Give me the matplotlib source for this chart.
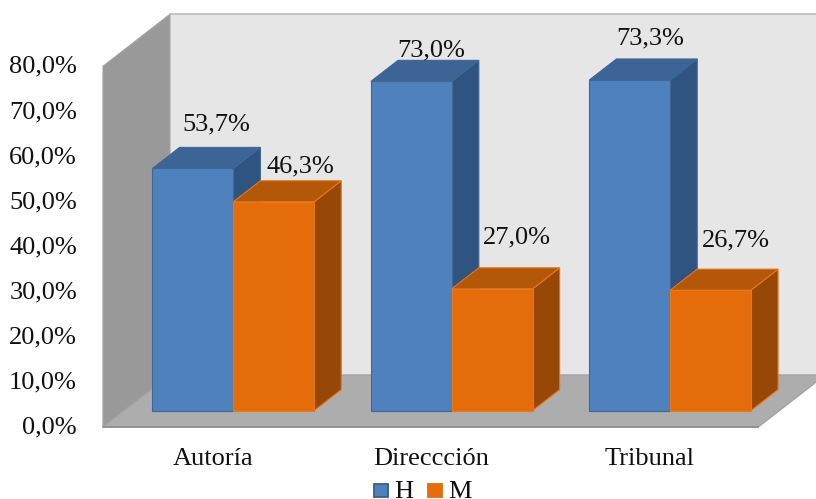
import matplotlib
matplotlib.use("Agg")
import matplotlib.pyplot as plt
from matplotlib.patches import Polygon, Rectangle

categories = ["Autoría", "Direccción", "Tribunal"]
series_names = ["H", "M"]
h_values = [53.7, 73.0, 73.3]
m_values = [46.3, 27.0, 26.7]
h_labels = ["53,7%", "73,0%", "73,3%"]
m_labels = ["46,3%", "27,0%", "26,7%"]
y_ticks = [0, 10, 20, 30, 40, 50, 60, 70, 80]
y_tick_labels = ["0,0%", "10,0%", "20,0%", "30,0%", "40,0%", "50,0%", "60,0%", "70,0%", "80,0%"]

W, H = 816, 499
PX_X = 218.4      # pixels per category
PX_Y = 4.51       # pixels per percent
X0, Y0 = 103, 427 # pixel of front-left floor corner
DX = 67 / PX_X    # full depth, x data units
DY = 52 / PX_Y    # full depth, y data units
BW = 0.37         # bar width in category units
D0, D1 = 0.315, 0.72  # depth range of the bars

plt.rcParams["font.family"] = ["Liberation Serif", "DejaVu Serif"]
fig = plt.figure(figsize=(W / 100, H / 100), dpi=100)
ax = fig.add_axes([0, 0, 1, 1])
ax.set_xlim(-0.5 - X0 / PX_X, -0.5 + (W - X0) / PX_X)
ax.set_ylim((Y0 - H) / PX_Y, Y0 / PX_Y)
ax.axis("off")


def P(x, v, d):
    return (x + d * DX, v + d * DY)


def poly(points, fc, ec=None, lw=0.8, z=1):
    ax.add_patch(Polygon(points, closed=True, facecolor=fc,
                         edgecolor=ec if ec else fc, linewidth=lw, zorder=z,
                         joinstyle="miter"))


xl, xr = -0.5, 2.5
vmax = y_ticks[-1]
# back wall (runs out at the right edge)
poly([P(xl, 0, 1), P(xl, vmax, 1), P(xr + 0.02, vmax, 1), P(xr + 0.02, 0, 1)],
     "#e6e6e6", "#e6e6e6", z=1)
ax.plot([P(xl, vmax, 1)[0], P(xr + 0.02, vmax, 1)[0]],
        [P(xl, vmax, 1)[1]] * 2, color="#bdbdbd", lw=1.2, zorder=2)
# side wall
poly([P(xl, 0, 0), P(xl, vmax, 0), P(xl, vmax, 1), P(xl, 0, 1)],
     "#999999", "#a6a6a6", z=2)
# floor
poly([P(xl, 0, 0), P(xr, 0, 0), P(xr, 0, 1), P(xl, 0, 1)],
     "#adadad", "#a3a3a3", lw=1.0, z=2)
ax.plot([P(xl, 0, 0)[0], P(xr, 0, 0)[0]], [P(xl, 0, 0)[1]] * 2,
        color="#8f8f8f", lw=1.2, zorder=3)


def bar(xa, xb, v, front, top, side, edge, z):
    poly([P(xb, 0, D0), P(xb, v, D0), P(xb, v, D1), P(xb, 0, D1)], side, edge, z=z)
    poly([P(xa, v, D0), P(xb, v, D0), P(xb, v, D1), P(xa, v, D1)], top, edge, z=z)
    poly([P(xa, 0, D0), P(xb, 0, D0), P(xb, v, D0), P(xa, v, D0)], front, edge, z=z)


for i in range(len(categories)):
    bar(i - BW, i, h_values[i], "#4f81bd", "#3c6595", "#305480", "#3f6797", 4 + i)
    bar(i, i + BW, m_values[i], "#e46c0a", "#b35708", "#974706", "#e8761a", 4 + i)

fs = 19
label_offset_px = [(23, 33), (20, 20), (20, 31)]
m_offset_px = [(27, 24), (25, 40), (25, 39)]
for i in range(len(categories)):
    x, y = P(i - BW / 2, h_values[i], D0)
    ax.annotate(h_labels[i], (x, y), xytext=label_offset_px[i], textcoords="offset pixels",
                ha="center", va="bottom", fontsize=fs, color="#111111", zorder=20)
    x, y = P(i + BW / 2, m_values[i], D0)
    ax.annotate(m_labels[i], (x, y), xytext=m_offset_px[i],
                textcoords="offset pixels", ha="center", va="bottom", fontsize=fs,
                color="#111111", zorder=20)

for v, s in zip(y_ticks, y_tick_labels):
    ax.text(xl - 26 / PX_X, v - 0.15, s, ha="right", va="center", fontsize=fs, color="#111111")
for i, c in enumerate(categories):
    ax.text(i + 1 / PX_X, -32 / PX_Y, c, ha="center", va="center", fontsize=fs, color="#111111")

# legend
lx = [374.5, 428.5]
for name, px, fc, ec in zip(series_names, lx, ["#4f81bd", "#e46c0a"], ["#35608f", "#e46c0a"]):
    x = ax.get_xlim()[0] + px / PX_X
    yb = (Y0 - 497) / PX_Y
    ax.add_patch(Rectangle((x, yb), 13.5 / PX_X, 13.5 / PX_Y, facecolor=fc, edgecolor=ec, linewidth=1.3))
    ax.text(x + 19.5 / PX_X, (Y0 - 498) / PX_Y, name, ha="left", va="baseline", fontsize=fs, color="#111111")

fig.savefig("out.png", dpi=100)
